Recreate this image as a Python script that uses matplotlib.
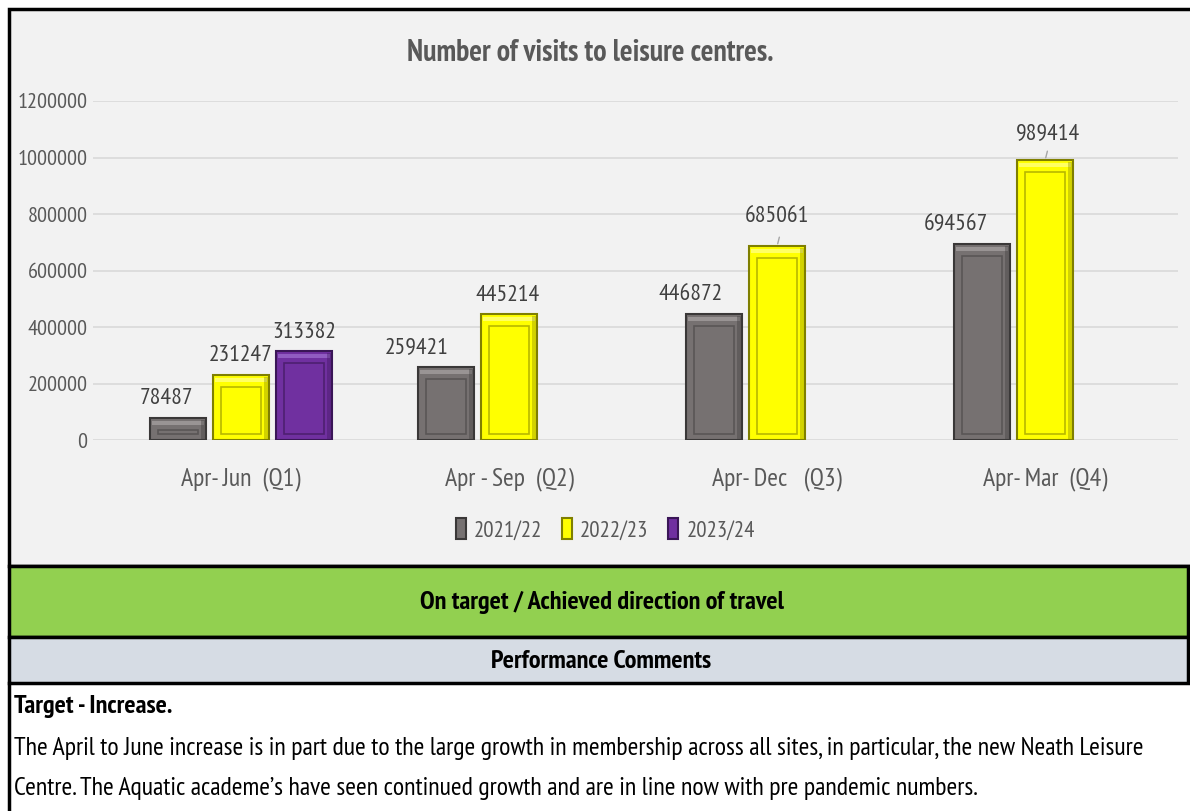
import matplotlib
matplotlib.use("Agg")
import matplotlib.pyplot as plt
from matplotlib.patches import Rectangle
import numpy as np

categories = ["Apr- Jun  (Q1)", "Apr - Sep  (Q2)", "Apr- Dec   (Q3)", "Apr- Mar  (Q4)"]
series_names = ["2021/22", "2022/23", "2023/24"]
v2122 = [78487, 259421, 446872, 694567]
v2223 = [231247, 445214, 685061, 989414]
v2324 = [313382, np.nan, np.nan, np.nan]
yticks = [0, 200000, 400000, 600000, 800000, 1000000, 1200000]

FONT = ['PT Sans Narrow', 'DejaVu Sans']
plt.rcParams['font.family'] = FONT

W, H = 1190, 811
fig = plt.figure(figsize=(W/100, H/100), dpi=100)
bg = fig.add_axes([0, 0, 1, 1])
bg.set_xlim(0, W); bg.set_ylim(H, 0); bg.axis('off')
bg.add_patch(Rectangle((0, 0), W, H, color='white'))
bg.add_patch(Rectangle((9, 9), W, 557, facecolor='#f2f2f2', edgecolor='black', lw=2.5))
bg.add_patch(Rectangle((9, 566), 1179, 71, facecolor='#92d050', edgecolor='black', lw=2.5))
bg.add_patch(Rectangle((9, 637), 1179, 46, facecolor='#d6dce4', edgecolor='black', lw=2.5))
bg.plot([9, 9], [683, H], color='black', lw=2.5)
bg.text(602, 602, "On target / Achieved direction of travel", ha='center', va='center', fontsize=19, fontweight='bold', color='black')
bg.text(601, 661, "Performance Comments", ha='center', va='center', fontsize=19, fontweight='bold', color='black')
bg.text(14, 706, "Target - Increase.", ha='left', va='center', fontsize=19, fontweight='bold', color='black')
bg.text(14, 749, "The April to June increase is in part due to the large growth in membership across all sites, in particular, the new Neath Leisure", ha='left', va='center', fontsize=18.6, color='black')
bg.text(14, 789, "Centre. The Aquatic academe\u2019s have seen continued growth and are in line now with pre pandemic numbers.", ha='left', va='center', fontsize=18.6, color='black')
bg.text(590, 53, "Number of visits to leisure centres.", ha='center', va='center', fontsize=21.5, fontweight='bold', color='#595959')

ax = fig.add_axes([93/W, 1-440/H, 1085/W, 339/H])
ax.set_facecolor('none')
for s in ax.spines.values():
    s.set_visible(False)
ax.set_ylim(0, 1200000)
ax.set_xlim(-0.552, 3.496)
ax.set_yticks(yticks)
ax.set_yticklabels([str(t) for t in yticks])
ax.yaxis.grid(True, color='#d9d9d9', lw=1.2)
ax.set_axisbelow(True)
ax.tick_params(axis='y', length=0, pad=4, labelsize=16, labelcolor='#595959')
x = np.arange(len(categories))
ax.set_xticks(x)
ax.set_xticklabels(categories)
ax.tick_params(axis='x', length=0, pad=20, labelsize=18.5, labelcolor='#595959')

styles = [
    dict(face='#767171', edge='#3a3838', inner='#5a5656', hi='#a8a4a4'),
    dict(face='#ffff00', edge='#7f7f00', inner='#b8b800', hi='#ffff90'),
    dict(face='#7030a0', edge='#3a1657', inner='#4e2070', hi='#a070d0'),
]
bw = 0.209
step = 0.235
px_x = 1/268.0
px_y = 200000/56.5
vals = [v2122, v2223, v2324]
lab_dx = [[-8, -21, -17, -19], [0, -1, 0, 2], [0, 0, 0, 0]]
lab_dy = [[6, 6, 6, 6], [6, 6, 14, 12], [6, 6, 6, 6]]
for i, (vs, st) in enumerate(zip(vals, styles)):
    pos = x + (i-1)*step
    ax.bar(pos, vs, width=bw, color=st['face'], edgecolor=st['edge'], lw=1.5, label=series_names[i], zorder=3)
    for j, (p, v) in enumerate(zip(pos, vs)):
        if np.isnan(v):
            continue
        ax.add_patch(Rectangle((p-bw/2+2*px_x, v-7*px_y), bw-4*px_x, 4*px_y, facecolor=st['hi'], edgecolor='none', alpha=0.7, zorder=4))
        ax.add_patch(Rectangle((p+bw/2-5*px_x, 0), 4*px_x, v-2*px_y, facecolor=st['edge'], edgecolor='none', alpha=0.35, zorder=4))
        ih = v - 18*px_y
        if ih > 0:
            ax.add_patch(Rectangle((p-bw/2+8*px_x, 6*px_y), bw-16*px_x, ih, facecolor='none', edgecolor=st['inner'], lw=1.2, zorder=4))
        else:
            ax.plot([p-bw/2+8*px_x, p+bw/2-8*px_x], [v/2, v/2], color=st['inner'], lw=1.5, zorder=4)
        ax.annotate(f"{int(v)}", (p, v), xytext=(lab_dx[i][j], lab_dy[i][j]), textcoords='offset points',
                    ha='center', va='bottom', fontsize=17, color='#404040', zorder=5)
        if lab_dy[i][j] > 10:
            ax.annotate("", (p, v), xytext=(p + 3*px_x, v + 12*px_y), arrowprops=dict(arrowstyle='-', color='#a6a6a6', lw=1))

leg = ax.legend(loc='center', bbox_to_anchor=(0.472, -0.265), ncol=3, frameon=False, fontsize=16.5,
                handlelength=0.45, handleheight=1.0, handletextpad=0.35, columnspacing=0.85, labelcolor='#595959')

fig.savefig("out.png", dpi=100)
